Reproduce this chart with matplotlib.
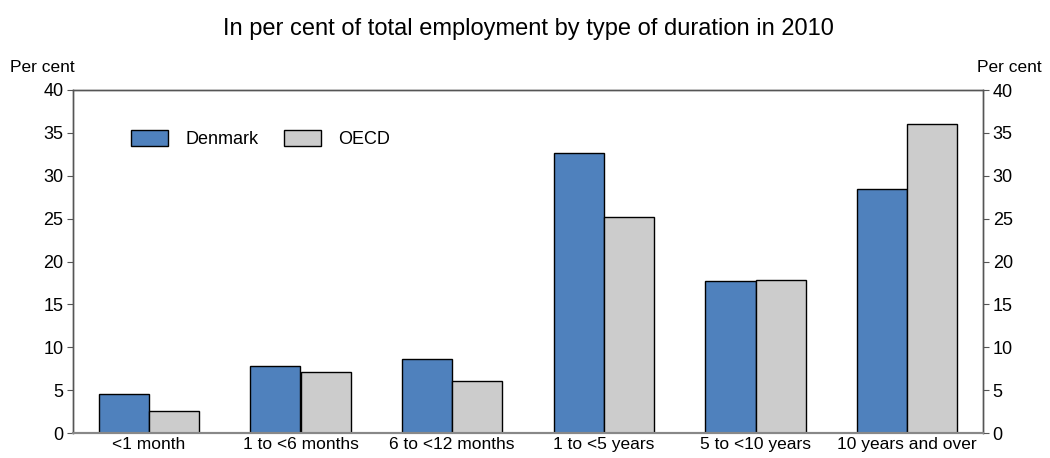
import matplotlib
matplotlib.use("Agg")
import matplotlib.pyplot as plt
import numpy as np

categories = ["<1 month", "1 to <6 months", "6 to <12 months", "1 to <5 years", "5 to <10 years", "10 years and over"]
denmark = [4.6, 7.8, 8.6, 32.7, 17.7, 28.5]
oecd = [2.6, 7.15, 6.1, 25.2, 17.9, 36.0]
yticks = [0, 5, 10, 15, 20, 25, 30, 35, 40]

plt.rcParams['font.family'] = ['Liberation Sans', 'DejaVu Sans']

fig = plt.figure(figsize=(10.5, 4.58), dpi=100)
ax = fig.add_axes([73/1050, 1-433/458, 910/1050, 343/458])

x = np.arange(len(categories))
w = 0.33
ax.bar(x - w/2, denmark, w, color="#4F81BD", edgecolor="black", linewidth=1.0, label="Denmark")
ax.bar(x + w/2, oecd, w, color="#CCCCCC", edgecolor="black", linewidth=1.0, label="OECD")

ax.set_xlim(-0.5, len(categories) - 0.5)
ax.set_ylim(0, 40)
ax.set_yticks(yticks)
ax.set_xticks(x)
ax.set_xticklabels(categories, fontsize=12.5)
ax.tick_params(axis='x', length=0, pad=3)
ax.tick_params(axis='y', labelsize=13, length=4, direction='out', color='#555555', pad=3)

ax2 = ax.twinx()
ax2.set_ylim(0, 40)
ax2.set_yticks(yticks)
ax2.tick_params(axis='y', labelsize=13, length=4, direction='out', color='#555555', pad=3)

for a in (ax, ax2):
    for s in ['left', 'right', 'top']:
        a.spines[s].set_color('#555555')
        a.spines[s].set_linewidth(1.0)
    a.spines['bottom'].set_color('#888888')
    a.spines['bottom'].set_linewidth(1.5)

fig.text(10/1050, 1-68/458, "Per cent", fontsize=12.5, ha='left', va='center')
fig.text(1042/1050, 1-68/458, "Per cent", fontsize=12.5, ha='right', va='center')
fig.text(528/1050, 1-35/458, "In per cent of total employment by type of duration in 2010", fontsize=17, ha='center', va='baseline')

ax.legend(loc='center left', bbox_to_anchor=(0.064, 0.857), ncol=2, frameon=False, fontsize=13,
          borderpad=0, borderaxespad=0,
          handlelength=2.05, handleheight=1.0, columnspacing=1.4, handletextpad=0.95)

fig.savefig("out.png", dpi=100)
